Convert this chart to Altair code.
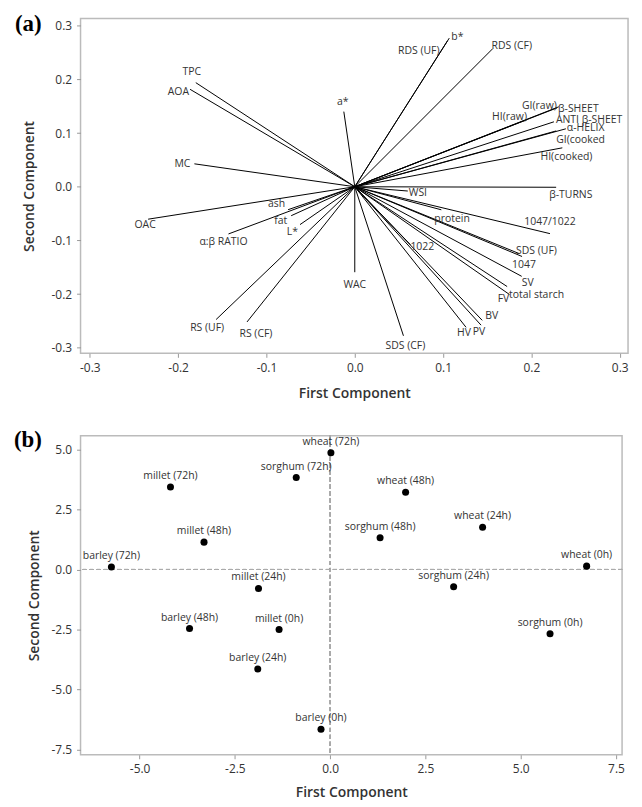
import altair as alt
import pandas as pd

# ---------------- Panel (a): loading vectors ----------------
a_names = ["TPC", "AOA", "MC", "OAC", "α:β RATIO", "ash", "fat", "L*",
           "RS (UF)", "RS (CF)", "a*", "b*", "RDS (UF)", "RDS (CF)",
           "GI(raw)", "β-SHEET", "HI(raw)", "ANTI β-SHEET", "α-HELIX",
           "GI(cooked", "HI(cooked)", "β-TURNS", "WSI", "protein",
           "1047/1022", "SDS (UF)", "1047", "SV", "total starch", "FV",
           "BV", "HV", "PV", "1022", "WAC", "SDS (CF)"]
a_pc1 = [-0.180, -0.1865, -0.1816, -0.234, -0.143, -0.0755, -0.072, -0.062,
         -0.157, -0.122, -0.0124, 0.107, 0.105, 0.156,
         0.231, 0.229, 0.195, 0.2255, 0.239,
         0.228, 0.235, 0.228, 0.060, 0.098,
         0.221, 0.1894, 0.186, 0.189, 0.1725, 0.175,
         0.1443, 0.126, 0.143, 0.063, 0.0, 0.0551]
a_pc2 = [0.194, 0.1816, 0.0427, -0.0605, -0.088, -0.0428, -0.054, -0.0706,
         -0.2475, -0.252, 0.140, 0.277, 0.272, 0.257,
         0.149, 0.147, 0.125, 0.121, 0.108,
         0.104, 0.0725, -0.001, -0.008, -0.043,
         -0.0874, -0.130, -0.1245, -0.167, -0.186, -0.2007,
         -0.249, -0.262, -0.258, -0.108, -0.1593, -0.2778]

# label placement (align, dx px, dy px)
a_place = {
    "TPC": ("center", -4, -11), "AOA": ("right", -1, 3), "MC": ("right", -4, 0),
    "OAC": ("center", -3, 6), "α:β RATIO": ("center", -5, 8),
    "ash": ("right", -3, -6), "fat": ("right", -4, 5), "L*": ("right", -2, 7),
    "RS (UF)": ("center", -9, 9), "RS (CF)": ("center", 9, 12),
    "a*": ("center", -1, -10), "b*": ("left", 2, -1), "RDS (UF)": ("right", -8, 10),
    "RDS (CF)": ("left", -1, -3), "GI(raw)": ("right", -2, -1),
    "β-SHEET": ("left", 1, 1), "HI(raw)": ("right", 0, -3),
    "ANTI β-SHEET": ("left", 2, -2), "α-HELIX": ("left", 1, -1),
    "GI(cooked": ("left", 0, 9), "HI(cooked)": ("left", -22, 9),
    "β-TURNS": ("left", -7, 8), "WSI": ("left", 1, 2), "protein": ("left", -7, 9),
    "1047/1022": ("center", 0, -12), "SDS (UF)": ("left", -6, -6),
    "1047": ("left", -7, 12), "SV": ("left", 0, 7), "total starch": ("left", 2, 9),
    "FV": ("right", 0, 5), "BV": ("left", 3, -4), "HV": ("center", -2, 6),
    "PV": ("center", -2, 7), "1022": ("left", 0, 2), "WAC": ("center", 0, 13),
    "SDS (CF)": ("center", 2, 10),
}

# ---------------- Panel (b): scores ----------------
b_names = ["barley (72h)", "millet (72h)", "millet (48h)", "sorghum (72h)",
           "wheat (72h)", "wheat (48h)", "sorghum (48h)", "wheat (24h)",
           "wheat (0h)", "sorghum (24h)", "millet (24h)", "barley (48h)",
           "millet (0h)", "barley (24h)", "barley (0h)", "sorghum (0h)"]
b_pc1 = [-5.74, -4.19, -3.31, -0.89, 0.02, 1.98, 1.31, 4.00,
         6.73, 3.24, -1.88, -3.69, -1.34, -1.90, -0.24, 5.77]
b_pc2 = [0.10, 3.44, 1.14, 3.83, 4.86, 3.22, 1.32, 1.76,
         0.14, -0.72, -0.79, -2.46, -2.50, -4.15, -6.66, -2.68]

FONT = "Open Sans"
TXT = "#333333"

# ---- panel (a) ----
WA, HA = 551, 337
XA = [-0.3105, 0.3094]
YA = [-0.3105, 0.3136]
pxa = WA / (XA[1] - XA[0])
pya = HA / (YA[1] - YA[0])

dfa = pd.DataFrame({"name": a_names, "pc1": a_pc1, "pc2": a_pc2})
dfa["align"] = [a_place[n][0] for n in a_names]
dfa["lx"] = [x + a_place[n][1] / pxa for n, x in zip(a_names, a_pc1)]
dfa["ly"] = [y - a_place[n][2] / pya for n, y in zip(a_names, a_pc2)]

fmt = "replace(format(datum.value, '.1f'), '\u2212', '-')"

axa_x = alt.Axis(title="First Component", values=[-0.3, -0.2, -0.1, 0.0, 0.1, 0.2, 0.3],
                 labelExpr=fmt, labelPadding=5, titlePadding=13)
axa_y = alt.Axis(title="Second Component", values=[-0.3, -0.2, -0.1, 0.0, 0.1, 0.2, 0.3],
                 labelExpr=fmt, labelPadding=5, titlePadding=15)
sxa = alt.Scale(domain=XA, nice=False, zero=False)
sya = alt.Scale(domain=YA, nice=False, zero=False)

rules_a = alt.Chart(dfa).mark_rule(color="black", strokeWidth=1).encode(
    x=alt.X("pc1:Q", scale=sxa, axis=axa_x),
    y=alt.Y("pc2:Q", scale=sya, axis=axa_y),
    x2=alt.datum(0), y2=alt.datum(0),
)
layers_a = [rules_a]
for al in ["left", "center", "right"]:
    layers_a.append(
        alt.Chart(dfa).transform_filter(alt.datum.align == al).mark_text(
            align=al, baseline="middle", font=FONT, fontSize=10.5, color=TXT
        ).encode(
            x=alt.X("lx:Q", scale=sxa, axis=axa_x),
            y=alt.Y("ly:Q", scale=sya, axis=axa_y),
            text="name:N",
        )
    )
tag_a = alt.Chart(pd.DataFrame({"t": ["(a)"]})).mark_text(
    align="left", baseline="top", font="Liberation Serif", fontSize=23,
    fontWeight="bold", color="black"
).encode(text="t:N", x=alt.value(-66), y=alt.value(-5))
layers_a.append(tag_a)
panel_a = alt.layer(*layers_a).properties(width=WA, height=HA)

# ---- panel (b) ----
WB, HB = 545, 321
XB = [-6.55, 7.66]
YB = [-7.72, 5.57]
dfb = pd.DataFrame({"name": b_names, "pc1": b_pc1, "pc2": b_pc2})
axb_x = alt.Axis(title="First Component", values=[-5.0, -2.5, 0.0, 2.5, 5.0, 7.5],
                 labelExpr=fmt, labelPadding=5, titlePadding=11)
axb_y = alt.Axis(title="Second Component", values=[-7.5, -5.0, -2.5, 0.0, 2.5, 5.0],
                 labelExpr=fmt, labelPadding=5, titlePadding=10)
sxb = alt.Scale(domain=XB, nice=False, zero=False)
syb = alt.Scale(domain=YB, nice=False, zero=False)

vline = alt.Chart(dfb).mark_rule(color="#aaaaaa", strokeDash=[4, 3], strokeWidth=1).encode(
    x=alt.datum(0, scale=sxb, axis=axb_x))
hline = alt.Chart(dfb).mark_rule(color="#aaaaaa", strokeDash=[4, 3], strokeWidth=1).encode(
    y=alt.datum(0, scale=syb, axis=axb_y))
pts = alt.Chart(dfb).mark_circle(size=50, color="black", opacity=1).encode(
    x=alt.X("pc1:Q", scale=sxb, axis=axb_x),
    y=alt.Y("pc2:Q", scale=syb, axis=axb_y),
)
lbl = alt.Chart(dfb).mark_text(
    align="center", baseline="middle", dy=-11, font=FONT, fontSize=10.5, color=TXT
).encode(
    x=alt.X("pc1:Q", scale=sxb, axis=axb_x),
    y=alt.Y("pc2:Q", scale=syb, axis=axb_y),
    text="name:N",
)
tag_b = alt.Chart(pd.DataFrame({"t": ["(b)"]})).mark_text(
    align="left", baseline="top", font="Liberation Serif", fontSize=23,
    fontWeight="bold", color="black"
).encode(text="t:N", x=alt.value(-67), y=alt.value(-7))
panel_b = alt.layer(vline, hline, pts, lbl, tag_b).properties(width=WB, height=HB)

chart = alt.vconcat(panel_a, panel_b, spacing=27).properties(
    padding={"left": 5, "top": 2, "right": 5, "bottom": 0}
).configure_view(
    stroke="#bbbbbb", strokeWidth=1.5
).configure_axis(
    domain=False, grid=False, ticks=True, tickColor="#999999", tickSize=4,
    labelFont=FONT, labelFontSize=12, labelColor=TXT,
    titleFont=FONT, titleFontSize=14, titleFontWeight=600, titleColor=TXT,
)

chart.save("out.html", embed_options={"renderer": "svg", "actions": False})
